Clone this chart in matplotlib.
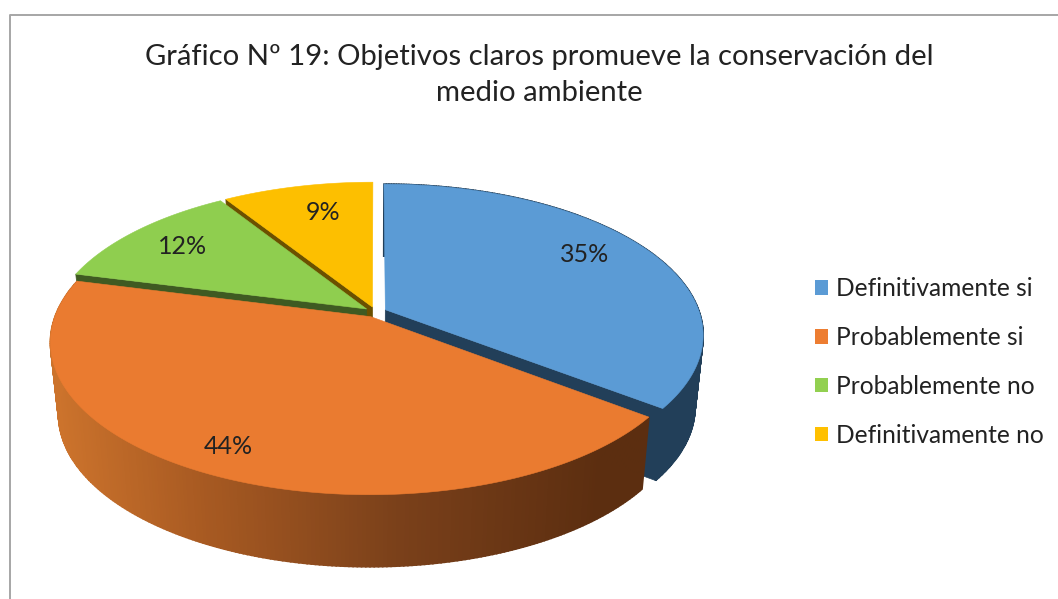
import numpy as np
import matplotlib
matplotlib.use('Agg')
import matplotlib.pyplot as plt
from matplotlib.patches import Patch, Polygon
from matplotlib.colors import to_rgb

categories = ['Definitivamente si', 'Probablemente si', 'Probablemente no', 'Definitivamente no']
values = [35.4, 43.6, 12, 9]
top_colors = ['#5b9bd5', '#ea7b30', '#8fce4f', '#fdbf00']
wall_colors = ['#223f59', '#5c2e10', '#3f5a22', '#6b5000']
legend_colors = ['#5b9bd5', '#ed7d31', '#92d050', '#ffc000']
label_pos = [(585, 254), (228, 447), (183, 246), (323, 213)]
title = 'Gráfico Nº 19: Objetivos claros promueve la conservación del\nmedio ambiente'

# pie geometry in pixels, perspective ellipse
cx, cy = 375.5, 312
a, b, k = 147, 314, 0.165
explode = 0.035
depth = 72
shrink = 0.975

plt.rcParams['font.family'] = ['Lato', 'DejaVu Sans']
fig = plt.figure(figsize=(10.58, 5.99), dpi=100)
ax = fig.add_axes([0, 0, 1, 1])
ax.set_xlim(0, 1058)
ax.set_ylim(599, 0)
ax.axis('off')


def project(ang, r, mid):
    u = r * np.sin(ang) + explode * np.sin(mid)
    v = r * np.cos(ang) + explode * np.cos(mid)
    d = 1 + k * v
    return cx + b * u / d, cy - a * v / d


def lower(x, y):
    return cx + shrink * (x - cx), y + depth


def orange_wall(xm):
    # light on the left, dark on the right
    c1 = np.array(to_rgb('#cc732c'))
    c2 = np.array(to_rgb('#a85a22'))
    c3 = np.array(to_rgb('#7a401a'))
    c4 = np.array(to_rgb('#5c2e10'))
    return [np.interp(xm, [55, 200, 400, 600], [c1[i], c2[i], c3[i], c4[i]]) for i in range(3)]


edges = np.cumsum([0] + values) / sum(values) * 2 * np.pi
slices = []
for i in range(len(values)):
    slices.append((i, edges[i], edges[i + 1]))

# which cut face of each slice can be seen
cut_face = {0: -1, 2: 0, 3: 0}

# back to front: yellow, green, blue, orange
for i, start, end in [slices[3], slices[2], slices[0], slices[1]]:
    mid = (start + end) / 2
    ang = np.linspace(start, end, 240)
    x, y = project(ang, 1, mid)
    x0, y0 = project(0.0, 0, mid)
    xl, yl = lower(x, y)
    x0l, y0l = lower(x0, y0)

    if i in cut_face:
        j = cut_face[i]
        ax.fill([x0, x[j], xl[j], x0l], [y0, y[j], yl[j], y0l], color=wall_colors[i], lw=0.5)

    # outer wall, strip by strip, yellow and green stay hidden at the back
    if i < 2:
        for j in range(len(ang) - 1):
            c = wall_colors[i]
            if i == 1:
                c = orange_wall((x[j] + x[j + 1]) / 2)
            ax.fill([x[j], x[j + 1], xl[j + 1], xl[j]], [y[j], y[j + 1], yl[j + 1], yl[j]], color=c, lw=1.2)

    ax.add_patch(Polygon(np.column_stack([np.r_[x0, x], np.r_[y0, y]]), closed=True,
                         facecolor=top_colors[i], edgecolor=top_colors[i], lw=0.4))

for v, (px, py) in zip(values, label_pos):
    ax.text(px, py, '%.0f%%' % v, fontsize=18, color='#222222', ha='center', va='center')

ax.text(539, 75, title, fontsize=21.1, color='#222222', ha='center', va='center', linespacing=1.43)

handles = [Patch(facecolor=c, edgecolor='none') for c in legend_colors]
ax.legend(handles, categories, loc='center left', bbox_to_anchor=(815, 362),
          bbox_transform=ax.transData, frameon=False, fontsize=17.67, labelcolor='#222222',
          handlelength=0.53, handleheight=0.53, handletextpad=0.33, labelspacing=1.05,
          borderpad=0, borderaxespad=0)

# chart frame, only partly inside the screenshot
ax.plot([9.5, 9.5, 1058], [599, 14.5, 14.5], color='#a6a6a6', lw=1.4)

fig.savefig('out.png', dpi=100)
